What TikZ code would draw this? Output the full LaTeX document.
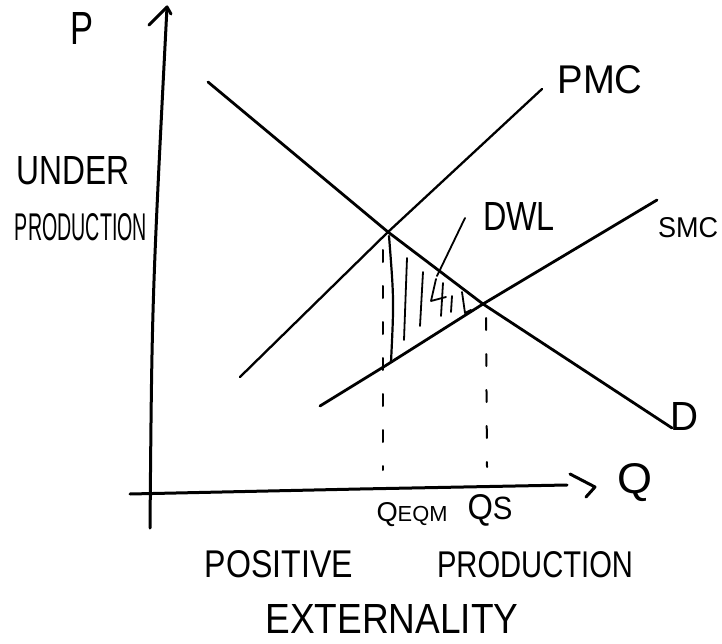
\documentclass[tikz,border=0pt]{standalone}
\usepackage{fontspec}
\setmainfont{Liberation Sans}
\usepackage{graphicx}
\usetikzlibrary{arrows.meta}

\tikzset{
  axis/.style={line width=3pt, line cap=round, line join=round},
  curve/.style={line width=2.8pt, line cap=round, line join=round},
  guide/.style={line width=2pt, line cap=round, dash pattern=on 12pt off 24pt},
  hatch/.style={line width=1.8pt, line cap=round, line join=round},
  lbl/.style={inner sep=0pt, outer sep=0pt}
}
\newcommand{\hw}[3]{\resizebox{#1pt}{#2pt}{#3}}

\begin{document}
\begin{tikzpicture}[x=1pt, y=-1pt]
  \useasboundingbox (0,0) rectangle (722,644);

  % axes
  \coordinate (ytop) at (167,7);
  \coordinate (ybot) at (150,528);
  \coordinate (ybarbl) at (149,25);
  \coordinate (ybarbr) at (171,14);
  \coordinate (xleft) at (130,494);
  \coordinate (xright) at (567,485);
  \coordinate (xbarbt) at (570,474);
  \coordinate (xtip) at (595,487);
  \coordinate (xbarbb) at (586,497);
  \draw[axis] (ybot) .. controls (152,300) .. (ytop);
  \draw[axis] (ybarbl) -- (ytop) -- (ybarbr);
  \draw[axis] (xleft) -- (360,489) -- (xright);
  \draw[axis] (xbarbt) -- (xtip) -- (xbarbb);

  % curves
  \coordinate (eqm) at (388,232);
  \coordinate (soc) at (483,304);
  \coordinate (low) at (385,366);
  \coordinate (dstart) at (208,82);
  \coordinate (dend) at (672,428);
  \coordinate (pstart) at (240,377);
  \coordinate (pend) at (542,89);
  \coordinate (sstart) at (320,406);
  \coordinate (send) at (657,200);
  \draw[curve] (dstart) -- (eqm) -- (soc) -- (dend);
  \draw[curve, line width=2.3pt] (pstart) -- (eqm) -- (pend);
  \draw[curve] (sstart) -- (low) -- (soc) -- (send);

  % quantities
  \coordinate (qeqmtop) at (383,250);
  \coordinate (qeqmbot) at (383,470);
  \coordinate (qstop) at (486,318);
  \coordinate (qsbot) at (487,467);
  \draw[guide] (qeqmtop) -- (qeqmbot);
  \draw[guide] (qstop) -- (qsbot);

  % dwl shading
  \draw[hatch, line width=2.2pt] (389,236) .. controls (394,300) .. (391,362);
  \draw[hatch] (407,258) -- (404,340);
  \draw[hatch] (423,272) -- (420,326);
  \draw[hatch] (436,279) -- (431,301) -- (446,297);
  \draw[hatch] (443,283) -- (441,316);
  \draw[hatch] (452,296) -- (451,312);
  \draw[hatch] (462,292) -- (465,313) -- (471,310);
  \coordinate (ptrtop) at (465,218);
  \coordinate (ptrend) at (437,276);
  \draw[hatch] (ptrtop) -- (ptrend);

  % labels
  \node[lbl] (plabel) at (82,29) {\hw{23}{32}{P}};
  \node[lbl] (under) at (73,171) {\hw{113}{28}{UNDER}};
  \node[lbl] (prodleft) at (81,227) {\hw{132}{27}{PRODUCTION}};
  \node[lbl] (pmc) at (600,80) {\hw{85}{28}{PMC}};
  \node[lbl] (smc) at (688,228) {\hw{60}{20}{SMC}};
  \node[lbl] (dwl) at (519,216) {\hw{72}{28}{DWL}};
  \node[lbl] (dlabel) at (684,416) {\hw{28}{28}{D}};
  \node[lbl] (qlabel) at (635,483) {\hw{35}{30}{Q}};
  \node[lbl] (qeqm) at (412,515) {\hw{71}{19}{Q{\footnotesize EQM}}};
  \node[lbl] (qs) at (490,510) {\hw{45}{25}{Q{\small S}}};
  \node[lbl] (positive) at (279,564) {\hw{148}{27}{POSITIVE}};
  \node[lbl] (prodbot) at (535,565) {\hw{196}{26}{PRODUCTION}};
  \node[lbl] (ext) at (392,619) {\hw{253}{29}{EXTERNALITY}};
\end{tikzpicture}
\end{document}
